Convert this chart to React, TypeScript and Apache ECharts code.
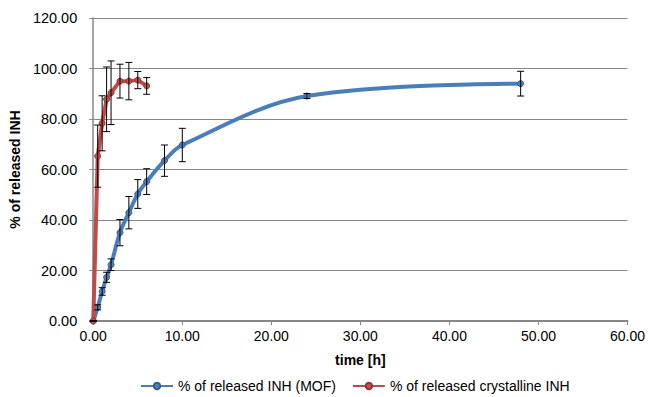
import React, { useEffect, useRef } from "react";
import * as echarts from "echarts";

const mofTime = [0, 0.5, 1, 1.5, 2, 3, 4, 5, 6, 8, 10, 24, 48];
const mofValues = [0, 5.4, 11.7, 17.3, 22.3, 35.0, 42.9, 50.3, 55.2, 63.5, 69.7, 89.1, 94.0];
const mofErrors = [0, 1.0, 1.5, 2.0, 2.3, 5.2, 6.4, 5.7, 5.1, 6.2, 6.6, 1.0, 4.9];

const crysTime = [0, 0.5, 1, 1.5, 2, 3, 4, 5, 6];
const crysValues = [0, 65.3, 78.3, 87.8, 90.4, 95.0, 95.0, 95.4, 93.1];
const crysErrors = [0, 12.3, 10.9, 12.8, 12.6, 6.7, 7.4, 3.4, 3.3];

const seriesNames = ["% of released INH (MOF)", "% of released crystalline INH"];
const xTitle = "time [h]";
const yTitle = "% of released INH";

const FONT = "Liberation Sans, Arial, sans-serif";

function errorData(t: number[], v: number[], e: number[]) {
  return t.map((x, i) => [x, v[i] - e[i], v[i] + e[i]]);
}

function renderErr(params: any, api: any) {
  const x = api.value(0);
  const lo = api.coord([x, api.value(1)]);
  const hi = api.coord([x, api.value(2)]);
  const cap = 3.5;
  const style = { stroke: "#000", lineWidth: 1 };
  return {
    type: "group",
    children: [
      { type: "line", shape: { x1: lo[0], y1: lo[1], x2: hi[0], y2: hi[1] }, style },
      { type: "line", shape: { x1: lo[0] - cap, y1: lo[1], x2: lo[0] + cap, y2: lo[1] }, style },
      { type: "line", shape: { x1: hi[0] - cap, y1: hi[1], x2: hi[0] + cap, y2: hi[1] }, style },
    ],
  };
}

export default function App() {
  const ref = useRef<HTMLDivElement>(null);
  useEffect(() => {
    if (!ref.current) return;
    const chart = echarts.init(ref.current, undefined, { renderer: "svg" });
    chart.setOption({
      animation: false,
      backgroundColor: "#fff",
      grid: { left: 92, right: 20, top: 18, bottom: 76, containLabel: false },
      legend: {
        data: seriesNames,
        left: 135,
        top: 374,
        itemWidth: 32,
        itemHeight: 8,
        itemGap: 16,
        textStyle: { fontFamily: FONT, fontSize: 14, color: "#000" },
      },
      xAxis: {
        type: "value",
        min: 0,
        max: 60,
        interval: 10,
        name: xTitle,
        nameLocation: "middle",
        nameGap: 32,
        nameTextStyle: { fontFamily: FONT, fontSize: 14, fontWeight: "bold", color: "#000" },
        axisLine: { show: true, onZero: false, lineStyle: { color: "#868686", width: 2 } },
        axisTick: { show: true, length: 4, lineStyle: { color: "#868686" } },
        axisLabel: {
          fontFamily: FONT,
          fontSize: 14,
          color: "#000",
          margin: 8,
          formatter: (v: number) => v.toFixed(2),
        },
        splitLine: { show: false },
      },
      yAxis: {
        type: "value",
        min: 0,
        max: 120,
        interval: 20,
        name: yTitle,
        nameLocation: "middle",
        nameGap: 62,
        nameTextStyle: { fontFamily: FONT, fontSize: 14, fontWeight: "bold", color: "#000" },
        axisLine: { show: true, lineStyle: { color: "#868686", width: 1.5 } },
        axisTick: { show: true, length: 4, lineStyle: { color: "#868686" } },
        axisLabel: {
          fontFamily: FONT,
          fontSize: 14.5,
          color: "#000",
          margin: 16,
          formatter: (v: number) => v.toFixed(2),
        },
        splitLine: { show: true, lineStyle: { color: "#868686", width: 1 } },
      },
      series: [
        {
          name: seriesNames[0],
          type: "line",
          data: mofTime.map((t, i) => [t, mofValues[i]]),
          smooth: 0.35,
          symbol: "circle",
          symbolSize: 6,
          showSymbol: true,
          lineStyle: { color: "#4A7EBB", width: 4 },
          itemStyle: { color: "#4F81BD", borderColor: "#385D8A", borderWidth: 1 },
          z: 2,
        },
        {
          name: seriesNames[1],
          type: "line",
          data: crysTime.map((t, i) => [t, crysValues[i]]),
          smooth: false,
          symbol: "circle",
          symbolSize: 6,
          showSymbol: true,
          lineStyle: { color: "#BE4B48", width: 4 },
          itemStyle: { color: "#C0504D", borderColor: "#8C3836", borderWidth: 1 },
          z: 3,
        },
        {
          type: "custom",
          name: "errMOF",
          data: errorData(mofTime, mofValues, mofErrors),
          renderItem: renderErr,
          encode: { x: 0, y: [1, 2] },
          z: 4,
          silent: true,
        },
        {
          type: "custom",
          name: "errCrys",
          data: errorData(crysTime, crysValues, crysErrors),
          renderItem: renderErr,
          encode: { x: 0, y: [1, 2] },
          z: 4,
          silent: true,
        },
      ],
    });
    return () => chart.dispose();
  }, []);
  return <div ref={ref} style={{ width: 648, height: 397, position: "absolute", left: 0, top: 0 }} />;
}
